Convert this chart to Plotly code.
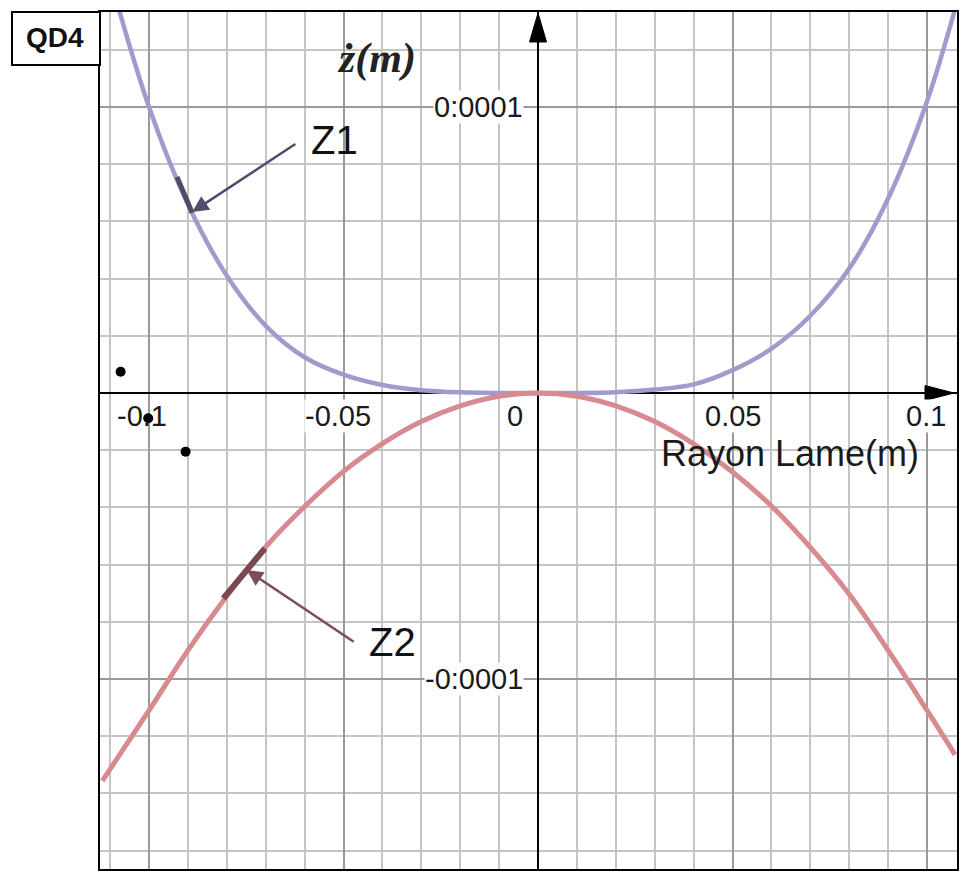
import plotly.graph_objects as go

# ---- data ----
x_z1 = [-0.11, -0.10, -0.09, -0.08, -0.07, -0.06, -0.05, -0.04, -0.03, -0.02, -0.01, 0.0,
        0.01, 0.02, 0.03, 0.04, 0.05, 0.06, 0.07, 0.08, 0.09, 0.10, 0.11]
z1 = [1.45e-4, 1.0e-4, 6.6e-5, 4.1e-5, 2.35e-5, 1.25e-5, 6.4e-6, 2.8e-6, 1.0e-6, 2.5e-7, 2e-8, 0.0,
      2e-8, 3e-7, 1.2e-6, 3.0e-6, 8.0e-6, 1.55e-5, 2.7e-5, 4.35e-5, 6.8e-5, 1.02e-4, 1.48e-4]

x_z2 = [-0.112, -0.10, -0.09, -0.08, -0.07, -0.06, -0.05, -0.04, -0.03, -0.02, -0.01, 0.0,
        0.01, 0.02, 0.03, 0.04, 0.05, 0.06, 0.07, 0.08, 0.09, 0.10, 0.1072]
z2 = [-1.356e-4, -1.11e-4, -9.0e-5, -7.1e-5, -5.38e-5, -3.97e-5, -2.74e-5, -1.77e-5, -1.0e-5, -4.5e-6, -1.1e-6, 0.0,
      -1.1e-6, -4.5e-6, -1.0e-5, -1.78e-5, -2.76e-5, -3.95e-5, -5.4e-5, -7.04e-5, -9.0e-5, -1.11e-4, -1.265e-4]

# highlighted pieces of each curve (where the labels point)
seg_z1_x = [-0.0928, -0.0889]
seg_z1_z = [7.55e-5, 6.3e-5]
seg_z2_x = [-0.0809, -0.0702]
seg_z2_z = [-7.18e-5, -5.43e-5]

# loose black dots
dots_x = [-0.1073, -0.1002, -0.0906]
dots_z = [7.45e-6, -8.85e-6, -2.05e-5]

x_tick_vals = [-0.1, -0.05, 0, 0.05, 0.1]
x_tick_text = ["-0.1", "-0.05", "0", "0.05", "0.1"]
y_tick_vals = [1e-4, -1e-4]
y_tick_text = ["0:0001", "-0:0001"]

# ---- figure ----
fig = go.Figure()

fig.add_trace(go.Scatter(x=x_z1, y=z1, mode="lines", line=dict(color="#a09bcd", width=4.5, shape="spline"),
                         hoverinfo="skip"))
fig.add_trace(go.Scatter(x=x_z2, y=z2, mode="lines", line=dict(color="#d78a90", width=5, shape="spline"),
                         hoverinfo="skip"))
fig.add_trace(go.Scatter(x=seg_z1_x, y=seg_z1_z, mode="lines", line=dict(color="#4d4b66", width=5),
                         hoverinfo="skip"))
fig.add_trace(go.Scatter(x=seg_z2_x, y=seg_z2_z, mode="lines", line=dict(color="#7a4850", width=6),
                         hoverinfo="skip"))
fig.add_trace(go.Scatter(x=dots_x, y=dots_z, mode="markers", marker=dict(color="black", size=10),
                         hoverinfo="skip"))

label_font = dict(family="Liberation Sans, Arial, sans-serif", size=29, color="#1a1a1a")
x_shift = {-0.1: -7, -0.05: -6, 0: -23, 0.05: 0, 0.1: -1}
annotations = []
for v, t in zip(x_tick_vals, x_tick_text):
    annotations.append(dict(x=v, y=0, xref="x", yref="y", text=t, showarrow=False, font=label_font,
                            xanchor="center", yanchor="middle", xshift=x_shift[v], yshift=-23,
                            bgcolor="rgba(0,0,0,0)" if v == -0.1 else "white", borderpad=0))
for v, t in zip(y_tick_vals, y_tick_text):
    annotations.append(dict(x=0, y=v, xref="x", yref="y", text=t, showarrow=False, font=label_font,
                            xanchor="right", yanchor="middle", xshift=-14, bgcolor="white", borderpad=0))

# axis titles
annotations.append(dict(x=0.0985, y=-2.1e-5, xref="x", yref="y", text="Rayon Lame(m)", showarrow=False,
                        font=dict(family="Liberation Sans, Arial, sans-serif", size=36, color="#1a1a1a"),
                        xanchor="right", yanchor="middle"))
annotations.append(dict(x=-0.0416, y=1.17e-4, xref="x", yref="y", text="ż(m)", showarrow=False,
                        font=dict(family="Liberation Serif, Times New Roman, serif", size=42, color="#222",
                                  style="italic", weight="bold"),
                        xanchor="center", yanchor="middle"))

# Z1 / Z2 callouts
annotations.append(dict(x=-0.0889, y=6.33e-5, xref="x", yref="y", ax=-0.062, ay=8.74e-5, axref="x", ayref="y",
                        text="", showarrow=True, arrowhead=2, arrowsize=1.3, arrowwidth=2.5,
                        arrowcolor="#4f4e6a", standoff=0))
annotations.append(dict(x=-0.0749, y=-6.19e-5, xref="x", yref="y", ax=-0.047, ay=-8.73e-5, axref="x", ayref="y",
                        text="", showarrow=True, arrowhead=2, arrowsize=1.3, arrowwidth=2.5,
                        arrowcolor="#7b4d54", standoff=0))
annotations.append(dict(x=-0.0524, y=8.83e-5, xref="x", yref="y", text="Z1", showarrow=False,
                        font=dict(family="Liberation Sans, Arial, sans-serif", size=40, color="#111"),
                        xanchor="center", yanchor="middle"))
annotations.append(dict(x=-0.0375, y=-8.71e-5, xref="x", yref="y", text="Z2", showarrow=False,
                        font=dict(family="Liberation Sans, Arial, sans-serif", size=40, color="#111"),
                        xanchor="center", yanchor="middle"))

# QD4 box label
annotations.append(dict(x=-0.0525, y=0.9697, xref="paper", yref="paper", text="<b>QD4</b>", showarrow=False,
                        font=dict(family="Liberation Sans Narrow, Arial Narrow, Liberation Sans, sans-serif",
                                  size=28, color="#111"),
                        xanchor="center", yanchor="middle"))

shapes = [
    dict(type="rect", xref="paper", yref="paper", x0=-0.1027, x1=0, y0=0.9382, y1=1,
         line=dict(color="black", width=2), fillcolor="white", layer="above"),
    # arrow heads at the ends of the axes
    dict(type="path", xref="x", yref="paper", xsizemode="pixel", ysizemode="pixel", xanchor=0, yanchor=1,
         path="M0,-1 L-8.5,-30 L8.5,-30 Z", fillcolor="black", line=dict(color="black", width=1)),
    dict(type="path", xref="paper", yref="y", xsizemode="pixel", ysizemode="pixel", xanchor=1, yanchor=0,
         path="M-3,0 L-32,7.5 L-32,-7.5 Z", fillcolor="black", line=dict(color="black", width=1)),
]

axis_common = dict(showticklabels=False, ticks="", showline=True, mirror=True, linecolor="black", linewidth=2,
                   zeroline=True, zerolinecolor="black", zerolinewidth=2, layer="below traces")

fig.update_layout(
    width=969, height=877,
    margin=dict(l=100, r=12, t=12, b=8),
    paper_bgcolor="white", plot_bgcolor="white",
    showlegend=False,
    xaxis=dict(range=[-0.1126, 0.1077], tick0=0, dtick=0.05, showgrid=True, gridcolor="#9a9a9a", gridwidth=2,
               minor=dict(dtick=0.01, tick0=0, showgrid=True, gridcolor="#c4c4c4", gridwidth=2),
               **axis_common),
    yaxis=dict(range=[-1.6643e-4, 1.3322e-4], tick0=0, dtick=1e-4, showgrid=True, gridcolor="#9a9a9a", gridwidth=2,
               minor=dict(dtick=2e-5, tick0=0, showgrid=True, gridcolor="#c4c4c4", gridwidth=2),
               **axis_common),
    annotations=annotations,
    shapes=shapes,
)

fig.write_html("out.html", config={"displayModeBar": False},
               post_script="document.body.style.margin='0';document.body.style.overflow='hidden';")
